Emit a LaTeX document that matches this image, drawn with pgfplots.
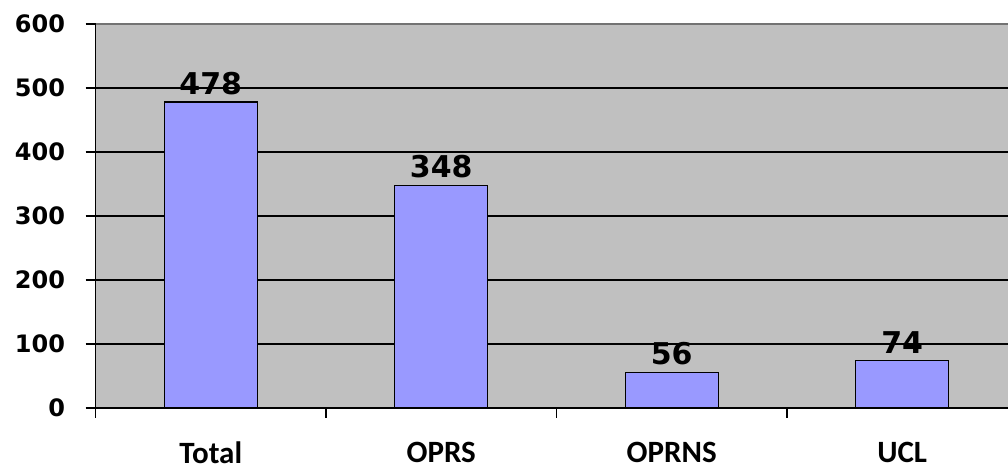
\documentclass[border=0pt]{standalone}
\usepackage{fontspec}
\usepackage{pgfplots}
\pgfplotsset{compat=1.18}
\newfontfamily\dejavu{DejaVu Sans}
\newfontfamily\carlito{Carlito}
\definecolor{bgc}{HTML}{C0C0C0}
\definecolor{barc}{HTML}{9999FF}
\begin{document}
\begin{tikzpicture}
\begin{axis}[
  at={(95.5pt,62pt)}, anchor=south west,
  scale only axis, width=912.5pt, height=384pt,
  xmin=-0.5, xmax=3.459, ymin=0, ymax=600,
  axis x line*=bottom, axis y line*=left,
  axis line style={-, black, line width=1.3pt},
  axis background/.style={fill=bgc},
  ytick={0,100,...,600},
  ymajorgrids, grid style={black, line width=1.3pt},
  xtick={-0.5,0.5,1.5,2.5}, xticklabels={},
  extra x ticks={0,1,2,3},
  extra x tick labels={Total,OPRS,OPRNS,UCL},
  extra x tick style={major tick length=0pt, grid=none,
    xticklabel style={font={\carlito\bfseries\fontsize{31}{35}\selectfont}, inner sep=0pt, yshift=-34pt}},
  tick align=outside, major tick length=10pt,
  tick style={black, line width=1.3pt},
  /pgf/number format/assume math mode=true,
  yticklabel style={font={\dejavu\bfseries\fontsize{24}{28}\selectfont}, xshift=-17pt},
  ybar, bar width=93pt,
  nodes near coords,
  every node near coord/.append style={font={\dejavu\bfseries\fontsize{30}{34}\selectfont}, yshift=3pt},
  clip=false,
]
\addplot[fill=barc, draw=black, line width=1.2pt] coordinates {(0,478) (1,348) (2,56) (3,74)};
\draw[gray!90!black, line width=1.5pt] (axis cs:-0.5,600) -- (axis cs:3.459,600);
\end{axis}
\pgfresetboundingbox
\path[use as bounding box] (0,0) rectangle (1008pt,470pt);
\end{tikzpicture}
\end{document}
